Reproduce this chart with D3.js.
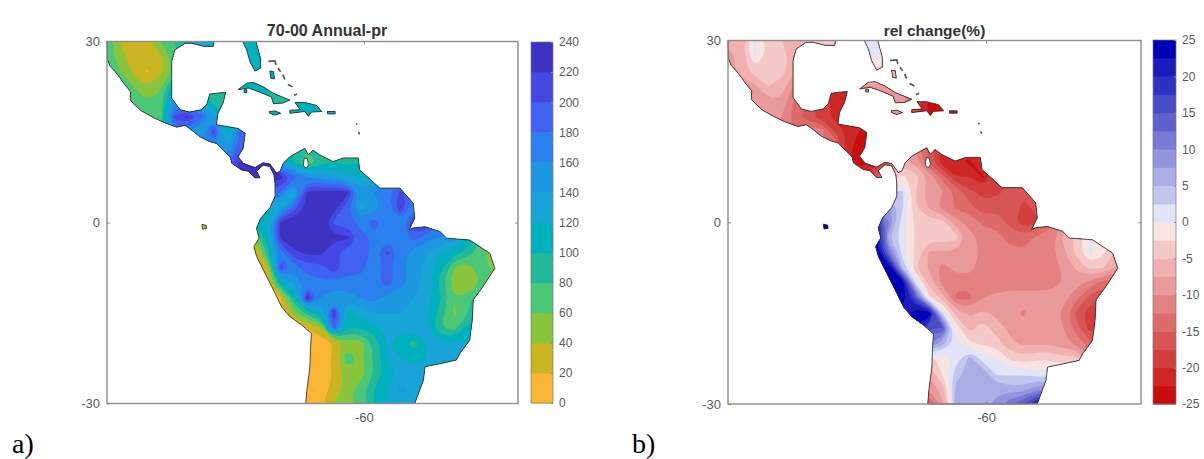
<!DOCTYPE html>
<html>
<head>
<meta charset="utf-8">
<script src="https://cdn.jsdelivr.net/npm/d3@7"></script>
<style>
  body { margin: 0; background: #fff; }
  text { font-family: "Liberation Sans", Arial, sans-serif; }
</style>
</head>
<body>
<svg id="chart" width="1204" height="459"></svg>
<script>
const _ = null;

// grid axes: first lon/lat and the spacing of the estimate grid below
const lonRange = [-110, -30];
const latRange = [-30, 30];
const gridLon0 = -110, gridLonStep = 2.6;
const gridLat0 = 30, gridLatStep = 2.5;

// annual precipitation (one row per latitude, north to south)
const prGrid = [
  [80,40,33,35,60,80,110,125,125,115,115,115,_,_,_,_,_,_,_,_,_,_,_,_,_,_,_,_,_,_,_,_],
  [75,45,30,25,35,70,100,_,_,_,110,110,110,_,_,_,_,_,_,_,_,_,_,_,_,_,_,_,_,_,_,_],
  [80,60,35,18,35,65,_,_,_,_,110,110,100,100,_,_,_,_,_,_,_,_,_,_,_,_,_,_,_,_,_,_],
  [_,70,60,40,55,120,_,90,90,90,110,110,100,90,_,_,_,_,_,_,_,_,_,_,_,_,_,_,_,_,_,_],
  [_,_,80,60,70,150,_,130,90,90,_,_,100,85,100,100,110,_,_,_,_,_,_,_,_,_,_,_,_,_,_,_],
  [_,_,_,60,60,205,225,190,150,100,_,_,130,140,120,110,130,140,_,_,_,_,_,_,_,_,_,_,_,_,_,_],
  [_,_,_,_,_,_,160,130,215,110,190,_,_,_,_,_,_,_,_,_,_,_,_,_,_,_,_,_,_,_,_,_],
  [_,_,_,_,_,_,_,_,160,140,190,200,_,_,_,_,_,_,_,_,_,_,_,_,_,_,_,_,_,_,_,_],
  [_,_,_,_,_,_,_,_,_,180,225,230,225,130,100,60,90,100,90,100,_,_,_,_,_,_,_,_,_,_,_,_],
  [_,_,_,_,_,_,_,_,_,_,230,230,230,230,190,160,150,140,130,120,110,_,_,_,_,_,_,_,_,_,_,_],
  [_,_,_,_,_,_,_,_,_,_,_,_,200,180,120,225,225,230,228,150,160,170,205,180,_,_,_,_,_,_,_,_],
  [_,_,_,_,_,_,_,_,_,_,_,_,110,130,190,228,232,232,185,130,150,170,222,160,_,_,_,_,_,_,_,_],
  [_,_,_,_,_,_,_,30,_,_,_,110,120,225,235,238,238,195,190,170,190,170,170,228,228,_,_,_,_,_,_,_],
  [_,_,_,_,_,_,_,_,_,_,_,40,110,225,235,238,228,225,225,190,175,175,165,190,165,160,150,120,_,_,_,_],
  [_,_,_,_,_,_,_,_,_,_,_,15,90,170,215,225,225,205,190,200,170,205,170,150,140,120,110,90,70,40,_,_],
  [_,_,_,_,_,_,_,_,_,_,_,10,30,215,170,190,190,215,185,185,170,185,165,150,130,105,60,45,75,50,_,_],
  [_,_,_,_,_,_,_,_,_,_,_,_,15,110,140,170,175,175,175,175,175,190,170,150,130,90,45,40,60,80,_,_],
  [_,_,_,_,_,_,_,_,_,_,_,_,10,20,100,235,160,140,150,160,170,150,140,140,130,100,60,70,100,_,_,_],
  [_,_,_,_,_,_,_,_,_,_,_,_,_,10,50,90,120,228,110,130,140,140,140,130,120,90,55,80,_,_,_,_],
  [_,_,_,_,_,_,_,_,_,_,_,_,_,_,10,20,35,190,100,100,110,130,130,130,120,80,70,110,_,_,_,_],
  [_,_,_,_,_,_,_,_,_,_,_,_,_,_,_,15,10,20,50,50,85,120,110,90,120,125,125,120,_,_,_,_],
  [_,_,_,_,_,_,_,_,_,_,_,_,_,_,_,10,10,25,75,55,85,120,120,110,120,130,130,_,_,_,_,_],
  [_,_,_,_,_,_,_,_,_,_,_,_,_,_,_,10,10,22,50,50,80,110,125,130,130,130,_,_,_,_,_,_],
  [_,_,_,_,_,_,_,_,_,_,_,_,_,_,10,10,10,25,50,70,100,120,150,130,130,_,_,_,_,_,_,_],
  [_,_,_,_,_,_,_,_,_,_,_,_,_,_,10,10,18,40,55,70,100,120,130,120,120,_,_,_,_,_,_,_]
];

// relative change in percent
const relGrid = [
  [-7,-6,0.5,-3.5,-5,-7,-4,-3,-3,0,1,1,_,_,_,_,_,_,_,_,_,_,_,_,_,_,_,_,_,_,_,_],
  [-8,-7,0.5,-3.5,-3.5,-7,-7,_,_,_,0.5,0.5,0,_,_,_,_,_,_,_,_,_,_,_,_,_,_,_,_,_,_,_],
  [-8,-7,-3.5,-3.5,-4,-7,_,_,_,_,-3,-3,-5,-5,_,_,_,_,_,_,_,_,_,_,_,_,_,_,_,_,_,_],
  [_,-8,-8,-5,-6,-11,_,-20,-21,-21,-8,-8,-8,-8,_,_,_,_,_,_,_,_,_,_,_,_,_,_,_,_,_,_],
  [_,_,-9,-8,-8,-13,-15,-17,-21,-21,_,_,-9,-9,-18,-23,-23,_,_,_,_,_,_,_,_,_,_,_,_,_,_,_],
  [_,_,_,-9,-10,-14,-17,-19,-21,-22,_,_,-8,-8,-20,-23,-23,-24,_,_,_,_,_,_,_,_,_,_,_,_,_,_],
  [_,_,_,_,_,_,-10,-11,-18,-21,-23,_,_,_,_,_,_,_,_,_,_,_,_,_,_,_,_,_,_,_,_,_],
  [_,_,_,_,_,_,_,_,-12,-22,-24,-24,_,_,_,_,_,_,_,_,_,_,_,_,_,_,_,_,_,_,_,_],
  [_,_,_,_,_,_,_,_,_,-22,-24,-22,-15,-6,-9,-16,-22,-22,-23,-18,_,_,_,_,_,_,_,_,_,_,_,_],
  [_,_,_,_,_,_,_,_,_,_,-20,-16,-4,-2,-4,-8,-14,-20,-20,-23,-18,_,_,_,_,_,_,_,_,_,_,_],
  [_,_,_,_,_,_,_,_,_,_,_,_,2,3,-5,-9,-10,-13,-17,-18,-18,-17,-17,-17,_,_,_,_,_,_,_,_],
  [_,_,_,_,_,_,_,_,_,_,_,_,8,3,-5,-8,-11,-13,-14,-17,-16,-16,-18,-17,_,_,_,_,_,_,_,_],
  [_,_,_,_,_,_,_,25,_,_,_,22,10,1,-3,-4,-4,-9,-11,-13,-13,-16,-19,-18,-13,_,_,_,_,_,_,_],
  [_,_,_,_,_,_,_,_,_,_,_,25,5,1,-3,-4,-3.5,-4,-9,-11,-12,-13,-14,-12,-12,-7,-4,0.5,_,_,_,_],
  [_,_,_,_,_,_,_,_,_,_,_,25,12,1,-3,-8,-8,-8,-8,-11,-12,-12,-12,-12,-11,-8,-4,0.5,-2,-6,_,_],
  [_,_,_,_,_,_,_,_,_,_,_,25,25,5,-5,-8,-11,-9,-8.5,-12,-12.5,-12.5,-12.5,-12.5,-12.5,-9,-7,-4,-5,-8,_,_],
  [_,_,_,_,_,_,_,_,_,_,_,_,25,25,2,-6,-11,-12,-12,-12,-12,-12,-12,-12,-12,-10,-9,-11,-14,-14,_,_],
  [_,_,_,_,_,_,_,_,_,_,_,_,_,25,15,-2,-6,-13,-13,-10,-9,-8,-8,-8,-8,-9,-12,-16,-18,_,_,_],
  [_,_,_,_,_,_,_,_,_,_,_,_,_,20,25,25,2,-6,-8,-7,-8,-8,-11,-8,-8,-11,-16,-19,_,_,_,_],
  [_,_,_,_,_,_,_,_,_,_,_,_,_,_,22,15,15,-1,-6,-3.5,-6.5,-8,-8,-8,-8,-10,-14,-19,_,_,_,_],
  [_,_,_,_,_,_,_,_,_,_,_,_,_,_,_,10,6,1,-2,-3,-3.5,-7,-8,-8,-8,-9,-11,-14,_,_,_,_],
  [_,_,_,_,_,_,_,_,_,_,_,_,_,_,_,-3,-2,1,6,1,0,-3,-4,-3,-3,-4,-4,_,_,_,_,_],
  [_,_,_,_,_,_,_,_,_,_,_,_,_,_,_,-7,-2,4,6,7,2,2,2,1,1,1,_,_,_,_,_,_],
  [_,_,_,_,_,_,_,_,_,_,_,_,_,_,-10,-10,-6,6,7,7,7,6,6,9,9,_,_,_,_,_,_,_],
  [_,_,_,_,_,_,_,_,_,_,_,_,_,_,-15,-15,-8,7,7,7,8,12,15,22,22,_,_,_,_,_,_,_]
];

// coastline rings, [lon, lat]
const mainland = [
  [-110,30],[-109.9,27],[-109.4,25.9],[-108.4,25],[-107.5,24],[-106.5,22.8],[-105.4,21.7],[-105.5,20.3],
  [-104.6,19.5],[-103.3,18.5],[-101,17.4],[-99,16.6],[-96.4,15.8],[-94.8,16.1],[-93.2,15.1],[-91.9,14.2],
  [-90,13.4],[-88.7,13.1],[-87.4,12],[-86,10.8],[-85.7,9.8],[-83.8,8.7],[-82.5,8.5],[-81.2,7.4],[-80.2,7.4],
  [-80.9,8.5],[-79.6,9.5],[-78.3,9.3],[-77.5,7.9],[-77.3,6.5],[-77.3,4.3],[-78.3,2.4],[-80.1,0.7],[-80.9,-0.95],
  [-80.4,-2.6],[-81.4,-4],[-80.9,-5.6],[-78.9,-9],[-77.3,-11.7],[-76,-14],[-74.4,-15.6],[-72.1,-17],[-70.2,-18.4],
  [-70.4,-21.1],[-70.5,-23.9],[-71.1,-27.8],[-71.3,-30],[-50.1,-30],[-48.4,-26.1],[-48.1,-23.9],[-45.2,-23.4],
  [-42,-22.8],[-41.3,-21.7],[-39.4,-19.5],[-38.9,-16.2],[-38.7,-12.8],[-36.8,-10.6],[-34.5,-7.6],[-35.5,-5.1],
  [-39.4,-2.9],[-43.9,-2.6],[-45.2,-1.5],[-48.1,-0.7],[-50.4,-0.9],[-51.2,-1.2],[-50.4,0.2],[-50.1,0.7],[-50.4,3.2],
  [-53,5.7],[-56.9,5.7],[-60.8,8.7],[-61.1,10.7],[-64,10.7],[-66,10.1],[-68.6,11.2],[-69.9,12],[-70.8,11.2],
  [-71.5,12.3],[-74.4,10.9],[-75.7,9.8],[-76.3,8.5],[-77,8.2],[-78.3,9.7],[-79.6,9.9],[-81.2,9.1],[-83.5,9.8],
  [-84.5,10.9],[-83.5,12.3],[-83.1,14.8],[-84.5,15.6],[-88.7,16.2],[-88.4,18.1],[-87.4,19.8],[-86.9,21.6],
  [-90,21.3],[-90.6,19.5],[-91.6,18.7],[-93.9,18.3],[-95.8,18.7],[-97.4,20.6],[-97.4,23.9],[-97.4,26.7],
  [-96.8,28.6],[-94.8,29.7],[-93.5,29.7],[-91.2,29.2],[-89.3,29.2],[-89.2,30]
];
const islands = [
  [[-83.6,30],[-81,30],[-80.1,27.2],[-80.1,25.6],[-81.2,25.1],[-82.2,26.7],[-82.8,28.6]],
  [[-84.5,22],[-82.8,23.1],[-81.5,23.2],[-79.6,22.5],[-77.6,21.4],[-74.4,20.3],[-75.7,19.8],[-77.6,19.7],[-78,20.8],[-80.2,21.6],[-82.5,22.3]],
  [[-73.4,19.9],[-71.5,19.9],[-69.2,19.4],[-68.2,18.4],[-70.2,18.3],[-70.8,17.6],[-71.5,18.4],[-74.4,18.1],[-74.4,18.6],[-72.4,18.7]],
  [[-78.4,18.4],[-77.3,18.5],[-76.2,18.1],[-77.3,17.8],[-78.3,18.1]],
  [[-67.1,18.4],[-65.6,18.4],[-65.6,18],[-67.1,18]],
  [[-78.3,25.1],[-77.6,25],[-77.4,23.8],[-78.1,23.9]],
  [[-83.3,22],[-82.8,22],[-82.8,21.5],[-83.3,21.5]],
  [[-91.5,-0.3],[-90.7,-0.5],[-90.6,-1],[-91.4,-1.1]]
];
const lake = [[-71.6,10.7],[-71,10.6],[-70.8,9.5],[-71.2,9],[-71.8,9.4]];
const darkIslets = [
  [[-78.6,26.7],[-77.3,26.8],[-77.1,26.1]],
  [[-76.7,25.6],[-76.2,25]],
  [[-75.8,24.5],[-75.4,23.7]],
  [[-74.8,22.9],[-73.9,22.5]],
  [[-73.6,21.1],[-73,21.3]],
  [[-61.5,16.4],[-61.3,16.2]],
  [[-61,15],[-60.9,14.6]]
];

// colour bands, lowest first
const prLevels = [0,20,40,60,80,100,120,140,160,180,200,220,240];
const prColors = ['#fbb535','#c9b520','#88c53e','#4cc777','#20b89a','#00b0bd','#18a5d6','#1f97e2','#2a80ec','#3f62f0','#4446e2','#3c32c2'];
const relLevels = [-25,-22.5,-20,-17.5,-15,-12.5,-10,-7.5,-5,-2.5,0,2.5,5,7.5,10,12.5,15,17.5,20,22.5,25];
const relColors = ['#c70d0d','#cc2626','#d23c3c','#d85454','#de6b6b','#e48282','#ea9a9a','#f0b1b0','#f5c9c8','#f8e4e2',
  '#e2e4f7','#c3c6ef','#aaade6','#9294de','#787ad6','#5f62ce','#4a4cc6','#2e30c0','#1a1aba','#0000b4'];
const prTicks = d3.range(0, 241, 20);
const relTicks = d3.range(-25, 26, 5);

const svg = d3.select('#chart');

svg.append('defs').append('filter').attr('id', 'soft')
  .attr('x', '-2%').attr('y', '-2%').attr('width', '104%').attr('height', '104%')
  .append('feGaussianBlur').attr('stdDeviation', 0.7);

function styleAxis(g) {
  g.selectAll('path,line').attr('stroke', '#8c8c8c');
  g.selectAll('text').attr('fill', '#5a5a5a').style('font-size', '13px');
}

// the grid only has values over land; cells under the land mask edge get their neighbours' mean
function padGrid(rows) {
  let g = rows.map(r => r.slice());
  let missing = true;
  while (missing) {
    missing = false;
    let next = g.map(r => r.slice());
    g.forEach((r, j) => r.forEach((v, i) => {
      if (v !== null) return;
      let around = [];
      for (let dj = -1; dj <= 1; dj++) for (let di = -1; di <= 1; di++) {
        if (g[j + dj] && g[j + dj][i + di] !== undefined && g[j + dj][i + di] !== null) around.push(g[j + dj][i + di]);
      }
      if (around.length) next[j][i] = d3.mean(around); else missing = true;
    }));
    g = next;
  }
  return g;
}

function drawPanel(id, box, rows, levels, colors, ticks, barBox, title, titleX, titleSize, letter, letterX) {
  const x = d3.scaleLinear().domain(lonRange).range([box.left, box.right]);
  const y = d3.scaleLinear().domain(latRange).range([box.bottom, box.top]);
  const ringPath = ring => d3.line().x(d => x(d[0])).y(d => y(d[1]))(ring) + 'Z';
  const linePath = d3.line().x(d => x(d[0])).y(d => y(d[1]));

  const clip = svg.select('defs').append('clipPath').attr('id', 'land' + id);
  [mainland].concat(islands).forEach(r => clip.append('path').attr('d', ringPath(r)));

  const map = svg.append('g').attr('filter', 'url(#soft)');
  const nx = rows[0].length, ny = rows.length;
  const flat = padGrid(rows).flat();
  const contours = d3.contours().size([nx, ny]).thresholds(levels.slice(0, -1))(flat);
  // contour rings come in grid units, rounded off so the bands read as soft blobs
  const gridRing = d3.line()
    .x(p => x(gridLon0 + (p[0] - 0.5) * gridLonStep))
    .y(p => y(gridLat0 - (p[1] - 0.5) * gridLatStep))
    .curve(d3.curveBasisClosed);
  const bandPath = d => d.coordinates.map(poly => poly.map(ring => gridRing(ring.slice(0, -1))).join('')).join('');
  map.append('g').attr('clip-path', 'url(#land' + id + ')')
    .selectAll('path').data(contours).enter().append('path')
    .attr('d', bandPath)
    .attr('fill', (d, i) => colors[i]);

  map.append('path').attr('d', ringPath(lake)).attr('fill', '#fff');
  const coast = map.append('g').attr('fill', 'none').attr('stroke', '#2e2e2e').attr('stroke-width', 1).attr('stroke-opacity', 0.85);
  [mainland, lake].concat(islands).forEach(r => coast.append('path').attr('d', ringPath(r)));
  darkIslets.forEach(r => coast.append('path').attr('d', linePath(r)).attr('stroke-width', 1.6));

  // frame and ticks
  const frame = svg.append('g');
  frame.append('rect').attr('x', box.left).attr('y', box.top)
    .attr('width', box.right - box.left).attr('height', box.bottom - box.top)
    .attr('fill', 'none').attr('stroke', '#8c8c8c').attr('stroke-width', 1.4);
  const xAxis = d3.axisBottom(x).tickValues([-60]).tickFormat(d => String(d)).tickSizeInner(-3).tickSizeOuter(0).tickPadding(9);
  const yAxis = d3.axisLeft(y).tickValues([-30, 0, 30]).tickFormat(d => String(d)).tickSizeInner(-3).tickSizeOuter(0).tickPadding(7);
  frame.append('g').attr('transform', 'translate(0,' + box.bottom + ')').call(xAxis).call(styleAxis)
    .call(g => g.select('.domain').remove());
  frame.append('g').attr('transform', 'translate(0,' + box.top + ')')
    .call(d3.axisTop(x).tickValues([-60]).tickSizeInner(-3).tickSizeOuter(0).tickFormat('')).call(styleAxis)
    .call(g => g.select('.domain').remove());
  frame.append('g').attr('transform', 'translate(' + box.left + ',0)').call(yAxis).call(styleAxis)
    .call(g => g.select('.domain').remove());
  frame.append('g').attr('transform', 'translate(' + box.right + ',0)')
    .call(d3.axisRight(y).tickValues([0]).tickSizeInner(-3).tickSizeOuter(0).tickFormat('')).call(styleAxis)
    .call(g => g.select('.domain').remove());

  // colour bar
  const barY = d3.scaleLinear().domain([levels[0], levels[levels.length - 1]]).range([barBox.bottom, barBox.top]);
  const bar = svg.append('g').attr('filter', 'url(#soft)');
  bar.selectAll('rect').data(colors).enter().append('rect')
    .attr('x', barBox.left).attr('width', barBox.right - barBox.left)
    .attr('y', (d, i) => barY(levels[i + 1]))
    .attr('height', (d, i) => barY(levels[i]) - barY(levels[i + 1]) + 0.5)
    .attr('fill', d => d);
  svg.append('rect').attr('x', barBox.left).attr('y', barBox.top)
    .attr('width', barBox.right - barBox.left).attr('height', barBox.bottom - barBox.top)
    .attr('fill', 'none').attr('stroke', '#7a7a7a').attr('stroke-width', 0.7);
  svg.append('g').attr('transform', 'translate(' + barBox.right + ',0)')
    .call(d3.axisRight(barY).tickValues(ticks).tickFormat(d => String(d)).tickSizeInner(-2).tickSizeOuter(0).tickPadding(6)).call(styleAxis)
    .call(g => g.select('.domain').remove())
    .call(g => g.selectAll('text').style('font-size', '12px'));

  svg.append('text').attr('x', titleX).attr('y', 36).attr('text-anchor', 'middle')
    .attr('fill', '#333').style('font-size', titleSize + 'px').style('font-weight', 700).text(title);
  svg.append('text').attr('x', letterX).attr('y', 453)
    .attr('fill', '#000').style('font-family', '"Liberation Serif", "Times New Roman", serif').style('font-size', '28px').text(letter);
}

drawPanel('a', {left: 107, right: 518, top: 41.5, bottom: 403.5}, prGrid, prLevels, prColors, prTicks,
  {left: 531, right: 553, top: 42, bottom: 403}, '70-00 Annual-pr', 327, 16, 'a)', 12);
drawPanel('b', {left: 728, right: 1141, top: 40.5, bottom: 404}, relGrid, relLevels, relColors, relTicks,
  {left: 1153, right: 1176, top: 40, bottom: 404}, 'rel change(%)', 934.5, 15.5, 'b)', 632);
</script>
</body>
</html>
